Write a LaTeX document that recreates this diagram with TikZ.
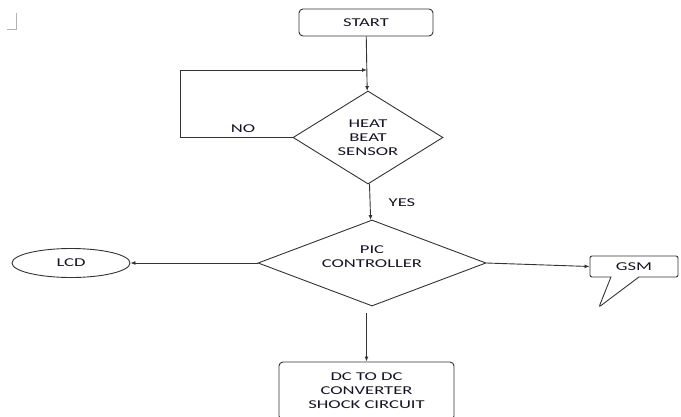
\documentclass[tikz,border=0pt]{standalone}
\usepackage{fontspec}
\setmainfont{Carlito}[FakeStretch=1.55]
\usetikzlibrary{arrows.meta,shapes.geometric,shapes.callouts}
\definecolor{fcline}{HTML}{333333}
\definecolor{fctext}{HTML}{141424}
\newcommand{\fcfont}{\fontsize{12}{14}\selectfont}

\begin{document}
\begin{tikzpicture}[x=1pt,y=-1pt,
  box/.style={draw=fcline,line width=0.9pt,rounded corners=4pt,align=center,font=\fcfont,
    text=fctext,inner sep=2pt},
  dec/.style={diamond,draw=fcline,line width=0.9pt,align=center,font=\fcfont,text=fctext,
    inner sep=0pt},
  term/.style={ellipse,draw=fcline,line width=0.9pt,font=\fcfont,text=fctext,inner sep=0pt},
  say/.style={rectangle callout,draw=fcline,line width=0.9pt,rounded corners=2pt,font=\fcfont,
    text=fctext,inner sep=0pt,callout pointer width=28pt},
  tag/.style={font=\fcfont,text=fctext,inner sep=0pt},
  arr/.style={-{Latex[length=5pt,width=4pt]},draw=fcline,line width=0.9pt}]
  \useasboundingbox (0,0) rectangle (681,416);
  \draw[gray!60] (7,29) -- (16.5,29) -- (16.5,13);
  \node[box,minimum width=134pt,minimum height=27pt] (start) at (366,22.5) {START};
  \node[dec,aspect=1.6,minimum width=150pt,minimum height=93pt] (heat) at (368,137.5)
    {HEAT\\BEAT\\SENSOR};
  \node[dec,aspect=2.65,minimum width=228pt,minimum height=86pt] (pic) at (372,263)
    {\raisebox{0pt}[\height][\dimexpr\depth+10pt\relax]{%
      \begin{tabular}{@{}c@{}}PIC\\CONTROLLER\end{tabular}}};
  \node[term,minimum width=118pt,minimum height=29pt] (lcd) at (71,263) {LCD};
  \node[say,minimum width=88pt,minimum height=21pt,callout absolute pointer={(599,307)}]
    (gsm) at (634,266.5) {GSM};
  \node[box,minimum width=175pt,minimum height=58pt] (dc) at (366.5,391)
    {DC TO DC\\CONVERTER\\SHOCK CIRCUIT};
  \coordinate (loopin) at (367,70);
  \draw[arr] (start) -- (heat);
  \draw[arr] (heat.west) -- ++(-112,0) |- (loopin);
  \node[tag] (no) at (243,129) {NO};
  \draw[arr] (heat) -- (pic);
  \node[tag] (yes) at (402,203) {YES};
  \draw[arr] (pic.west) -- (lcd.east);
  \draw[arr] (pic.east) -- (gsm.west);
  \draw[arr,shorten <=7pt] (dc.north |- pic.south) -- (dc.north);
\end{tikzpicture}
\end{document}
